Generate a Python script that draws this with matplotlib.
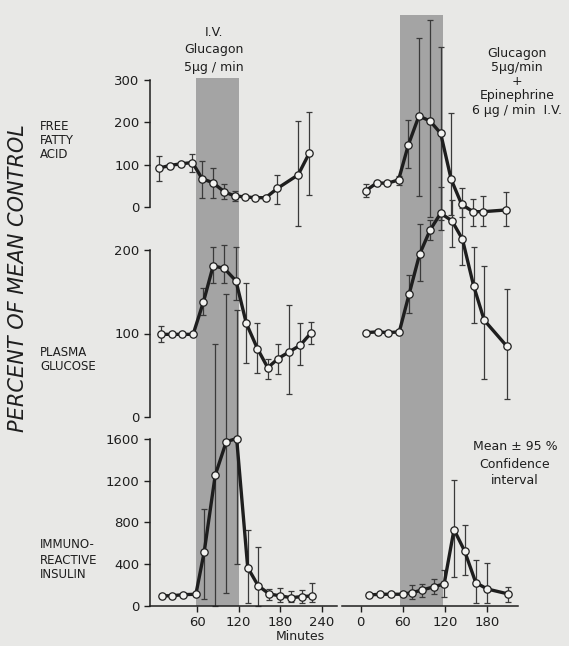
import numpy as np
import matplotlib

matplotlib.use('Agg')

import matplotlib.pyplot as plt

W, H = 569, 646

# ---- data (minutes, percent of mean control) ----
# left: I.V. glucagon
ffa_l_t = [5, 20, 36, 53, 67, 83, 99, 114, 129, 144, 159, 176, 206, 222]
ffa_l = [92, 98, 102, 105, 67, 57, 36, 26, 24, 22, 22, 44, 76, 127]
ffa_l_lo = [61, None, None, 82, 22, 22, 18, 14, None, None, None, 6, -46, 28]
ffa_l_hi = [121, None, None, 125, 109, 93, 54, 38, None, None, None, 76, 202, 225]

glu_l_t = [7, 23, 38, 54, 69, 83, 99, 116, 131, 147, 162, 177, 193, 209, 225]
glu_l = [99, 99, 99, 99, 138, 181, 178, 163, 112, 82, 59, 70, 78, 86, 101]
glu_l_lo = [90, None, None, None, 122, 160, 160, 140, 65, 53, 46, 52, 27, 62, 88]
glu_l_hi = [109, None, None, None, 154, 203, 206, 204, 161, 113, 70, 88, 134, 112, 114]

ins_l_t = [9, 24, 40, 58, 70, 86, 102, 117, 133, 148, 164, 180, 196, 211, 226]
ins_l = [94, 96, 106, 110, 515, 1253, 1575, 1604, 366, 193, 113, 94, 77, 87, 94]
ins_l_lo = [None, None, None, None, 62, 0, 119, 399, 23, 0, 55, 39, 39, 29, 39]
ins_l_hi = [None, None, None, None, 929, 2513, 2995, 2834, 730, 559, 161, 174, 142, 151, 216]

# right: glucagon + epinephrine
ffa_r_t = [7, 23, 38, 54, 68, 83, 99, 114, 129, 144, 160, 175, 207]
ffa_r = [38, 57, 56, 64, 147, 215, 203, 174, 65, 6, -11, -11, -7]
ffa_r_lo = [23, None, None, 52, 92, 26, -24, -30, -20, -23, -46, -46, -46]
ffa_r_hi = [54, None, None, 74, 206, 400, 442, 379, 223, 44, 19, 26, 35]

glu_r_t = [8, 24, 39, 55, 69, 84, 99, 114, 130, 145, 161, 176, 208]
glu_r = [101, 102, 101, 102, 147, 195, 224, 244, 235, 213, 157, 116, 85]
glu_r_lo = [None, None, None, None, 124, 163, 212, 224, 204, 182, 113, 46, 22]
glu_r_hi = [None, None, None, None, 170, 231, 236, 275, 260, 250, 203, 181, 153]

ins_r_t = [12, 28, 43, 60, 73, 88, 105, 119, 133, 148, 164, 180, 210]
ins_r = [103, 110, 110, 110, 125, 151, 183, 209, 730, 527, 222, 161, 113]
ins_r_lo = [None, None, None, None, 61, 87, 113, 87, 280, 296, 26, 29, 39]
ins_r_hi = [None, None, None, None, 199, 209, 254, 344, 1202, 778, 440, 409, 177]

shade_l = (58, 120)
shade_r = (56, 118)

PAPER = '#e8e8e6'
INK = '#1e1e1e'


def box(x0, x1, ytop, ybot):
    return [x0 / W, 1 - ybot / H, (x1 - x0) / W, (ybot - ytop) / H]


def draw(ax, t, y, lo, hi):
    t = np.array(t, float)
    y = np.array(y, float)
    idx = [i for i in range(len(t)) if lo[i] is not None]
    if idx:
        l = np.array([lo[i] for i in idx], float)
        h = np.array([hi[i] for i in idx], float)
        eb = ax.errorbar(t[idx], y[idx], yerr=[y[idx] - l, h - y[idx]], fmt='none',
                         ecolor='#3a3a3a', elinewidth=0.9, capsize=2.5, capthick=0.9, zorder=2)
        for part in eb.lines[1] + eb.lines[2]:
            part.set_clip_on(False)
    ax.plot(t, y, '-', color=INK, lw=2.4, zorder=3, clip_on=False, solid_joinstyle='round')
    ax.plot(t, y, 'o', ms=5.3, mfc='#f2f2f0', mec=INK, mew=0.9, zorder=4, clip_on=False)


fig = plt.figure(figsize=(W / 100, H / 100), dpi=100)
fig.patch.set_facecolor(PAPER)

cols = {
    'left': ((150, 337), (-8.4, 262.2), 78, shade_l),
    'right': ((342, 518), (-26.6, 224.2), 15, shade_r),
}
rows = [(80, 207, 300), (250, 417, 200), (439, 605.7, 1600)]

# shaded infusion periods, one tall strip per column
for key, (xs, lim, top, sh) in cols.items():
    bg = fig.add_axes(box(xs[0], xs[1], top, 605.7))
    bg.set_xlim(lim)
    bg.axvspan(sh[0], sh[1], color='#a4a4a4', lw=0, zorder=0)
    bg.axis('off')

series = {
    'left': [(ffa_l_t, ffa_l, ffa_l_lo, ffa_l_hi),
             (glu_l_t, glu_l, glu_l_lo, glu_l_hi),
             (ins_l_t, ins_l, ins_l_lo, ins_l_hi)],
    'right': [(ffa_r_t, ffa_r, ffa_r_lo, ffa_r_hi),
              (glu_r_t, glu_r, glu_r_lo, glu_r_hi),
              (ins_r_t, ins_r, ins_r_lo, ins_r_hi)],
}
yticks = [[0, 100, 200, 300], [0, 100, 200], [0, 400, 800, 1200, 1600]]

for key, (xs, lim, top, sh) in cols.items():
    for r, (ytop, ybot, ymax) in enumerate(rows):
        ax = fig.add_axes(box(xs[0], xs[1], ytop, ybot))
        ax.patch.set_alpha(0)
        ax.set_xlim(lim)
        ax.set_ylim(0, ymax)
        draw(ax, *series[key][r])
        for s in ax.spines.values():
            s.set_visible(False)
            s.set_color(INK)
            s.set_linewidth(1.1)
        ax.tick_params(colors=INK, labelcolor=INK, labelsize=9.5, length=4, width=1, direction='out')
        if key == 'left':
            ax.spines['left'].set_visible(True)
            ax.set_yticks(yticks[r])
        else:
            ax.set_yticks([])
        if r == 2:
            ax.spines['bottom'].set_visible(True)
            ax.set_xticks([60, 120, 180, 240] if key == 'left' else [0, 60, 120, 180])
        else:
            ax.set_xticks([])


def ftext(x, y, s, **kw):
    fig.text(x / W, 1 - y / H, s, color=INK, **kw)


ftext(18, 278, 'PERCENT OF MEAN CONTROL', rotation=90, style='italic', fontsize=15,
      ha='center', va='center')
for i, s in enumerate(['FREE', 'FATTY', 'ACID']):
    ftext(40, 127 + 14 * i, s, fontsize=8.5, ha='left', va='center')
for i, s in enumerate(['PLASMA', 'GLUCOSE']):
    ftext(40, 353 + 14 * i, s, fontsize=8.5, ha='left', va='center')
for i, s in enumerate(['IMMUNO-', 'REACTIVE', 'INSULIN']):
    ftext(40, 545 + 15 * i, s, fontsize=8.5, ha='left', va='center')

for i, s in enumerate(['I.V.', 'Glucagon', '5\u03bcg / min']):
    ftext(214, 32 + 18 * i, s, fontsize=9, ha='center', va='center')
for i, s in enumerate(['Glucagon', '5\u03bcg/min', '+', 'Epinephrine', '6 \u03bcg / min  I.V.']):
    ftext(517, 53 + 14.3 * i, s, fontsize=9, ha='center', va='center')
for i, s in enumerate(['Mean \u00b1 95 %', 'Confidence', 'interval']):
    ftext(515, 447 + 17 * i, s, fontsize=9, ha='center', va='center')

ftext(300, 636, 'Minutes', fontsize=9, ha='center', va='center')

plt.savefig('out.png', dpi=100, facecolor=PAPER)
